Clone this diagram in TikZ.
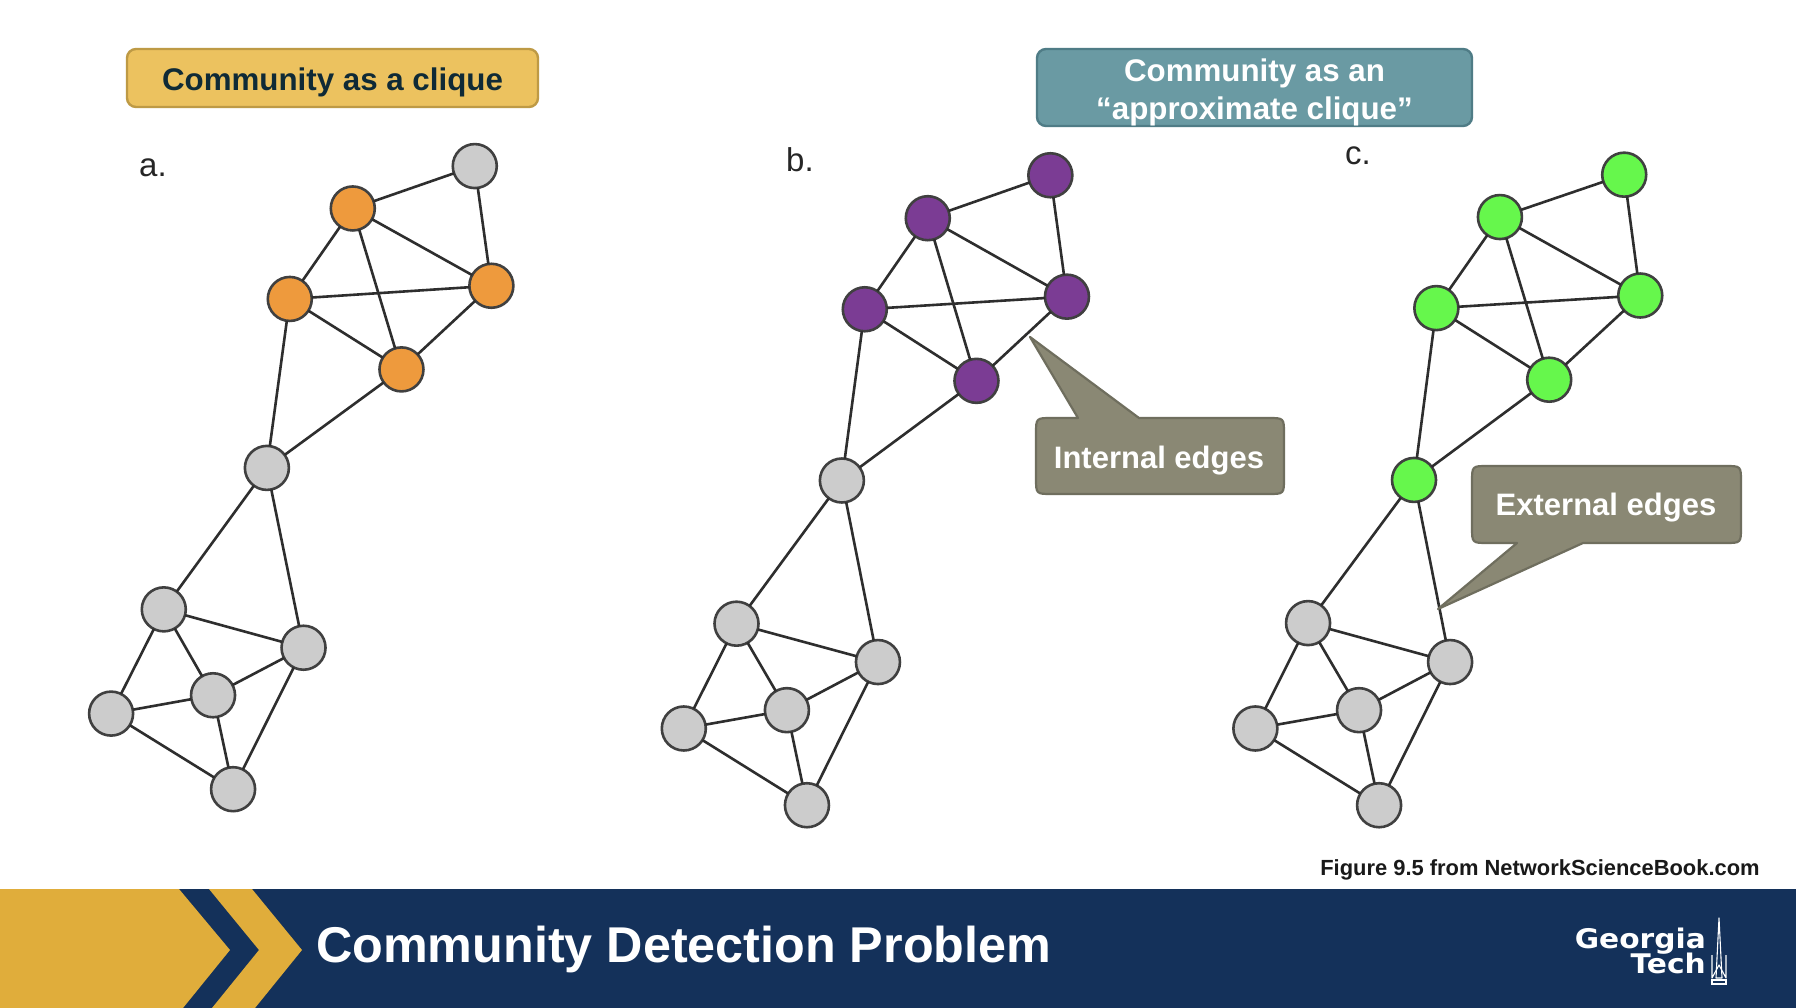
\documentclass[tikz,border=0pt]{standalone}
\usepackage{graphicx}
\usepackage{fontspec}
\setmainfont{Liberation Sans}
\newfontfamily\wide{DejaVu Sans}
\definecolor{gtgold}{HTML}{E0AD3B}
\definecolor{gtnavy}{HTML}{14315A}
\definecolor{cgray}{HTML}{CCCCCC}
\definecolor{corange}{HTML}{EE9A3D}
\definecolor{cpurple}{HTML}{7B3C94}
\definecolor{cgreen}{HTML}{66F74C}
\definecolor{calloutfill}{HTML}{8A8874}
\definecolor{calloutline}{HTML}{6F6E5E}
\definecolor{HTMLyellow}{HTML}{ECC25F}
\definecolor{HTMLyellowline}{HTML}{BE9A45}
\definecolor{HTMLdark}{HTML}{0F2A36}
\definecolor{HTMLteal}{HTML}{6A9AA3}
\definecolor{HTMLtealline}{HTML}{4F7C86}
\tikzset{
  vtx/.style={circle,draw=black!75,line width=2.6pt,minimum size=44pt,inner sep=0pt,outer sep=0pt,fill=cgray},
  edgeline/.style={draw=black!82,line width=2.6pt},
  headbox/.style={rounded corners=9pt,line width=2.4pt},
  headtext/.style={font=\fontsize{31.3}{38}\selectfont\bfseries,align=center,inner sep=0pt},
  callout/.style={fill=calloutfill,draw=calloutline,line width=2.2pt,line join=round},
  callouttext/.style={text=white,font=\fontsize{31}{36}\selectfont\bfseries,inner sep=0pt},
  letter/.style={font=\fontsize{33}{36}\selectfont,text=black!85,inner sep=0pt},
  logotext/.style={inner sep=0pt,anchor=base east,text=white,font=\wide\fontsize{27}{30}\selectfont\bfseries},
}
\newcommand{\graphedges}[1]{%
  \foreach \p/\q in {2/1,1/3,2/3,2/4,2/5,4/3,4/5,3/5,4/6,5/6,6/7,6/8,7/8,7/9,7/10,8/9,8/11,9/10,9/11,10/11}
    \draw[edgeline] (#1\p) -- (#1\q);
}
\begin{document}
\begin{tikzpicture}[x=1pt,y=-1pt]
\useasboundingbox (0,0) rectangle (1796,1008);
\fill[white] (0,0) rectangle (1796,1008);

% graph a
\begin{scope}[x=1.14541pt,y=-1.14541pt]
\node[vtx] (a1) at (414.5,145) {};
\node[vtx,fill=corange] (a2) at (308,182) {};
\node[vtx,fill=corange] (a3) at (429,249.5) {};
\node[vtx,fill=corange] (a4) at (253,261) {};
\node[vtx,fill=corange] (a5) at (350.5,322.5) {};
\node[vtx] (a6) at (233,408.5) {};
\node[vtx] (a7) at (143,532) {};
\node[vtx] (a8) at (265,565.5) {};
\node[vtx] (a9) at (186,607) {};
\node[vtx] (a10) at (97,623) {};
\node[vtx] (a11) at (203.5,689) {};
\graphedges{a}
% graph b
\node[vtx,fill=cpurple] (b1) at (917,153) {};
\node[vtx,fill=cpurple] (b2) at (810,190.5) {};
\node[vtx,fill=cpurple] (b3) at (931.5,259) {};
\node[vtx,fill=cpurple] (b4) at (755,270) {};
\node[vtx,fill=cpurple] (b5) at (852.5,332.5) {};
\node[vtx] (b6) at (735,419.5) {};
\node[vtx] (b7) at (643,544.5) {};
\node[vtx] (b8) at (766.5,578) {};
\node[vtx] (b9) at (687,620) {};
\node[vtx] (b10) at (597,636) {};
\node[vtx] (b11) at (704.5,703) {};
\graphedges{b}
% graph c
\node[vtx,fill=cgreen] (c1) at (1418,152.5) {};
\node[vtx,fill=cgreen] (c2) at (1309.5,189.5) {};
\node[vtx,fill=cgreen] (c3) at (1432,258) {};
\node[vtx,fill=cgreen] (c4) at (1254,269) {};
\node[vtx,fill=cgreen] (c5) at (1352.5,331.5) {};
\node[vtx,fill=cgreen] (c6) at (1234.5,419) {};
\node[vtx] (c7) at (1142,544) {};
\node[vtx] (c8) at (1266,578) {};
\node[vtx] (c9) at (1186.5,620) {};
\node[vtx] (c10) at (1096,636) {};
\node[vtx] (c11) at (1204,703) {};
\graphedges{c}
\end{scope}

% letters
\node[letter] (la) at (153,168) {a.};
\node[letter] (lb) at (800,160) {b.};
\node[letter] (lc) at (1358,156) {c.};

% headers
\draw[headbox,fill=HTMLyellow,draw=HTMLyellowline] (127,49) rectangle (538,107);
\node[headtext,text=HTMLdark] (h1) at (332.5,82) {Community as a clique};
\draw[headbox,fill=HTMLteal,draw=HTMLtealline] (1037,49) rectangle (1472,126);
\node[headtext,text=white] (h2) at (1254.5,92) {Community as an\\``approximate clique''};

% callouts
\draw[callout] (1078,418) -- (1030,337) -- (1139,418) -- (1268,418) .. controls (1284,418) .. (1284,434) -- (1284,478) .. controls (1284,494) .. (1268,494) -- (1052,494) .. controls (1036,494) .. (1036,478) -- (1036,434) .. controls (1036,418) .. (1052,418) -- cycle;
\node[callouttext] (t1) at (1159,461) {Internal edges};
\draw[callout] (1517,543) -- (1438,609) -- (1583,543) -- (1725,543) .. controls (1741,543) .. (1741,527) -- (1741,482) .. controls (1741,466) .. (1725,466) -- (1488,466) .. controls (1472,466) .. (1472,482) -- (1472,527) .. controls (1472,543) .. (1488,543) -- cycle;
\node[callouttext] (t2) at (1606,508) {External edges};

% credit
\node[inner sep=0pt,font=\fontsize{21.9}{26}\selectfont\bfseries,text=black!90] (credit) at (1540,870) {Figure 9.5 from NetworkScienceBook.com};

% banner
\fill[gtnavy] (0,889) rectangle (1796,1008);
\fill[gtgold] (0,889) -- (179,889) -- (230,950) -- (183,1008) -- (0,1008) -- cycle;
\fill[gtgold] (209,889) -- (252,889) -- (302,950) -- (255,1008) -- (212,1008) -- (259,950) -- cycle;
\node[inner sep=0pt,anchor=base west,text=white,font=\fontsize{50.3}{56}\selectfont\bfseries] (title) at (316,962) {Community Detection Problem};

% logo
\node[logotext] (g1) at (1706,948) {\scalebox{1.1}[1]{Georgia}};
\node[logotext] (g2) at (1706,973) {\scalebox{1.1}[1]{Tech}};
\draw[white,line width=1.1pt,line join=round] (1719,918) -- (1722,978) -- (1716,978) -- cycle;
\draw[white,line width=1.1pt,line join=round] (1712,955) -- (1712,978) -- (1719,965) -- (1726,978) -- (1726,955);
\draw[white,line width=1.1pt] (1712,980) rectangle (1726,984);
\end{tikzpicture}
\end{document}
